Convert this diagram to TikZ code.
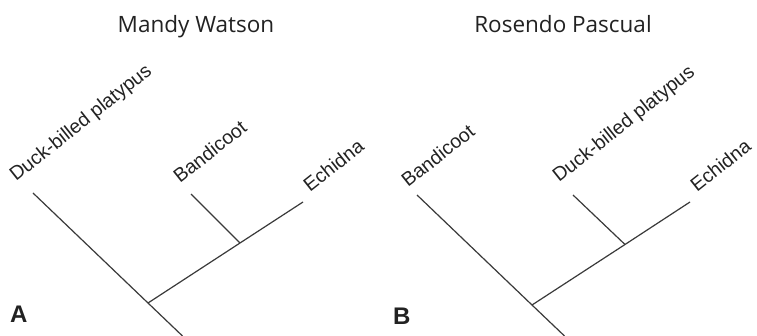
\documentclass[tikz,border=0pt]{standalone}
\usepackage{fontspec}
\setmainfont{Liberation Sans}
\newfontfamily\titlefont{Open Sans}
\definecolor{linegray}{HTML}{3A3A3A}
\definecolor{textgray}{HTML}{222222}
\begin{document}
\begin{tikzpicture}[x=1pt,y=-1pt,
  branch/.style={draw=linegray, line width=1.2pt},
  taxon/.style={anchor=base west, rotate=38.5, inner sep=0pt,
    font=\fontsize{19.5}{19.5}\selectfont, text=textgray},
  heading/.style={anchor=base, inner sep=0pt,
    font=\titlefont\fontsize{22.5}{22.5}\selectfont, text=textgray},
  panel/.style={anchor=base west, inner sep=0pt,
    font=\bfseries\fontsize{24}{24}\selectfont, text=textgray}]
\fill[white] (0,0) rectangle (757,336);
\useasboundingbox (0,0) rectangle (757,336);

% ---------- Tree A ----------
\node[heading] (titleA) at (196,33) {Mandy Watson};
\node[panel] (panelA) at (10,323) {A};
\coordinate (a-duck) at (33,193);
\coordinate (a-band) at (191,194);
\coordinate (a-echi) at (303,202);
\coordinate (a-inner) at (240,243);
\coordinate (a-node) at (148,303);
\coordinate (a-root) at (182.5,336);
\node[taxon] (lab-a-duck) at (16,182) {Duck-billed platypus};
\node[taxon] (lab-a-band) at (180,184) {Bandicoot};
\node[taxon] (lab-a-echi) at (310,193) {Echidna};
\draw[branch] (a-duck) -- (a-node) -- (a-root);
\draw[branch] (a-node) -- (a-inner) -- (a-echi);
\draw[branch] (a-inner) -- (a-band);

% ---------- Tree B ----------
\node[heading] (titleB) at (563,33) {Rosendo Pascual};
\node[panel] (panelB) at (393,324) {B};
\coordinate (b-band) at (417,195);
\coordinate (b-duck) at (573,195);
\coordinate (b-echi) at (690,202);
\coordinate (b-inner) at (625,244.5);
\coordinate (b-node) at (532,305);
\coordinate (b-root) at (564.5,336);
\node[taxon] (lab-b-band) at (408,188) {Bandicoot};
\node[taxon] (lab-b-duck) at (559,183) {Duck-billed platypus};
\node[taxon] (lab-b-echi) at (697,193) {Echidna};
\draw[branch] (b-band) -- (b-node) -- (b-root);
\draw[branch] (b-node) -- (b-inner) -- (b-echi);
\draw[branch] (b-inner) -- (b-duck);
\end{tikzpicture}
\end{document}
